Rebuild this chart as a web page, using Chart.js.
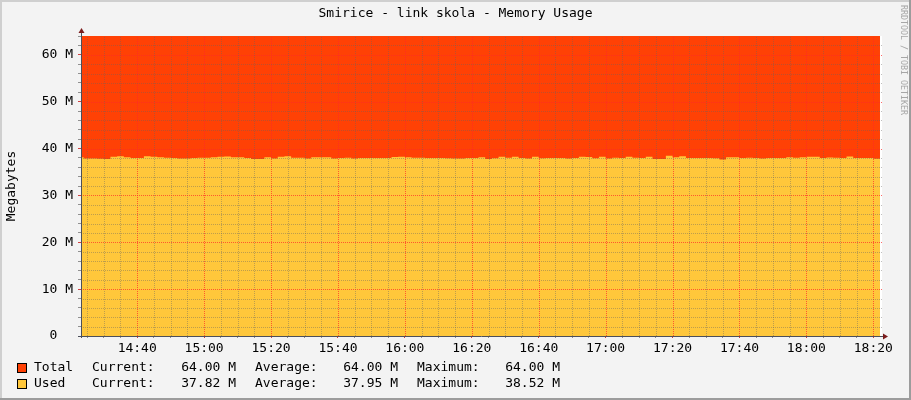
<!DOCTYPE html>
<html>
<head>
<meta charset="utf-8">
<title>Smirice - link skola - Memory Usage</title>
<script src="https://cdn.jsdelivr.net/npm/chart.js@4.4.1/dist/chart.umd.min.js"></script>
<style>
  html, body { margin: 0; padding: 0; background: #f3f3f3; }
  canvas { display: block; }
</style>
</head>
<body>
<canvas id="memChart" width="911" height="400"></canvas>
<script>
// samples every 2 minutes, first one at 14:22 (minutes of the day)
const startMinute = 862;
const stepMinutes = 2;

// Used memory in MB
const usedMB = [
  37.75, 38.15, 37.85, 37.85, 37.80, 37.75, 38.25, 38.35, 38.15, 37.95,
  37.95, 38.35, 38.25, 38.15, 38.05, 37.95, 37.85, 37.85, 37.95, 38.05,
  38.05, 38.15, 38.25, 38.30, 38.15, 38.15, 37.95, 37.75, 37.75, 38.15,
  37.85, 38.25, 38.35, 38.05, 38.05, 37.85, 38.15, 38.15, 38.15, 37.85,
  37.95, 38.05, 37.85, 37.95, 37.95, 37.95, 38.00, 37.95, 38.20, 38.25,
  38.15, 38.05, 38.05, 38.00, 37.95, 37.95, 37.90, 37.85, 37.85, 37.95,
  37.95, 38.15, 37.75, 37.90, 38.25, 38.05, 38.25, 37.95, 37.85, 38.25,
  37.90, 37.95, 37.95, 37.95, 37.85, 37.95, 38.25, 38.20, 37.90, 38.25,
  37.85, 38.05, 37.95, 38.25, 38.05, 38.00, 38.25, 37.75, 37.75, 38.45,
  38.15, 38.35, 37.95, 37.95, 37.95, 37.95, 37.90, 37.65, 38.15, 38.15,
  37.95, 38.05, 37.95, 37.85, 37.95, 37.95, 37.95, 38.15, 38.05, 38.15,
  38.25, 38.25, 37.95, 38.10, 38.05, 37.95, 38.30, 37.95, 38.00, 38.00,
  37.82
];

// Total memory in MB (constant in the picture)
const totalMB = [
  64, 64, 64, 64, 64, 64, 64, 64, 64, 64, 64, 64, 64, 64, 64, 64, 64, 64, 64, 64,
  64, 64, 64, 64, 64, 64, 64, 64, 64, 64, 64, 64, 64, 64, 64, 64, 64, 64, 64, 64,
  64, 64, 64, 64, 64, 64, 64, 64, 64, 64, 64, 64, 64, 64, 64, 64, 64, 64, 64, 64,
  64, 64, 64, 64, 64, 64, 64, 64, 64, 64, 64, 64, 64, 64, 64, 64, 64, 64, 64, 64,
  64, 64, 64, 64, 64, 64, 64, 64, 64, 64, 64, 64, 64, 64, 64, 64, 64, 64, 64, 64,
  64, 64, 64, 64, 64, 64, 64, 64, 64, 64, 64, 64, 64, 64, 64, 64, 64, 64, 64, 64,
  64
];

// legend rows
const seriesNames = ['Total', 'Used'];
const seriesColors = ['#ff4105', '#ffc73b'];
const legendCurrent = [64.00, 37.82];
const legendAverage = [64.00, 37.95];
const legendMaximum = [64.00, 38.52];

// axes
const xMin = 863.2;   // 14:23
const xMax = 1102.6;  // 18:22
const yTickLabels = ['0  ', '10 M', '20 M', '30 M', '40 M', '50 M', '60 M'];

const FONT = "'DejaVu Sans Mono', monospace";
const MINOR_GRID = 'rgba(100,100,100,0.42)';
const MAJOR_GRID = 'rgba(255,40,40,0.7)';

function toPoints(values) {
    return values.map((v, i) => ({ x: startMinute + i * stepMinutes, y: v }));
}

function hhmm(m) {
    const h = Math.floor(m / 60);
    const mm = m % 60;
    return h + ':' + (mm < 10 ? '0' : '') + mm;
}

// dotted rrdtool grid, drawn over the areas
const dottedGrid = {
    id: 'dottedGrid',
    afterDatasetsDraw(chart) {
        const { ctx, chartArea: a, scales: { x, y } } = chart;
        ctx.save();
        ctx.lineWidth = 1;
        ctx.setLineDash([1, 1]);
        x.ticks.forEach(t => {
            const px = Math.round(x.getPixelForValue(t.value)) + 0.5;
            if (px <= a.left + 1 || px >= a.right) return;
            ctx.strokeStyle = t.value % 20 === 0 ? MAJOR_GRID : MINOR_GRID;
            ctx.beginPath();
            ctx.moveTo(px, a.bottom);
            ctx.lineTo(px, a.top);
            ctx.stroke();
        });
        y.ticks.forEach(t => {
            if (t.value <= 0 || t.value >= 64) return;
            const py = Math.round(y.getPixelForValue(t.value)) + 0.5;
            ctx.strokeStyle = t.value % 10 === 0 ? MAJOR_GRID : MINOR_GRID;
            ctx.beginPath();
            ctx.moveTo(a.left, py);
            ctx.lineTo(a.right, py);
            ctx.stroke();
        });
        ctx.restore();
    }
};

// rrdtool-ish frame, title, axis arrows, watermark and legend
const rrdDecor = {
    id: 'rrdDecor',
    beforeDraw(chart) {
        const { ctx, chartArea: a } = chart;
        ctx.save();
        ctx.fillStyle = '#f3f3f3';
        ctx.fillRect(0, 0, chart.width, chart.height);
        ctx.fillStyle = '#ffffff';
        ctx.fillRect(a.left, a.top, a.right - a.left, a.bottom - a.top);
        ctx.restore();
    },
    afterDraw(chart) {
        const { ctx, chartArea: a } = chart;
        const W = chart.width, H = chart.height;
        ctx.save();

        // frame
        ctx.fillStyle = '#cfcfcf';
        ctx.fillRect(0, 0, W, 2);
        ctx.fillRect(0, 0, 2, H);
        ctx.fillStyle = '#9c9c9c';
        ctx.fillRect(0, H - 2, W, 2);
        ctx.fillRect(W - 2, 0, 2, H);

        // axis lines + arrows
        ctx.strokeStyle = '#4c4f5a';
        ctx.lineWidth = 1;
        ctx.beginPath();
        ctx.moveTo(a.left + 0.5, a.bottom + 2);
        ctx.lineTo(a.left + 0.5, a.top - 4);
        ctx.moveTo(a.left - 3, a.bottom + 0.5);
        ctx.lineTo(a.right + 3, a.bottom + 0.5);
        ctx.stroke();
        ctx.fillStyle = '#7a1c1c';
        ctx.beginPath();
        ctx.moveTo(a.left + 0.5, a.top - 8);
        ctx.lineTo(a.left - 2.5, a.top - 3);
        ctx.lineTo(a.left + 3.5, a.top - 3);
        ctx.closePath();
        ctx.fill();
        ctx.beginPath();
        ctx.moveTo(a.right + 6, a.bottom + 0.5);
        ctx.lineTo(a.right + 1, a.bottom - 2.5);
        ctx.lineTo(a.right + 1, a.bottom + 3.5);
        ctx.closePath();
        ctx.fill();

        // title
        ctx.fillStyle = '#000';
        ctx.font = '13px ' + FONT;
        ctx.textAlign = 'center';
        ctx.textBaseline = 'middle';
        ctx.fillText('Smirice - link skola - Memory Usage', W / 2, 14);

        // watermark
        ctx.save();
        ctx.translate(903, 5);
        ctx.rotate(Math.PI / 2);
        ctx.fillStyle = '#a6a6a6';
        ctx.font = '8.3px ' + FONT;
        ctx.textAlign = 'left';
        ctx.textBaseline = 'middle';
        ctx.fillText('RRDTOOL / TOBI OETIKER', 0, 0);
        ctx.restore();

        // legend
        ctx.font = '13px ' + FONT;
        ctx.textBaseline = 'middle';
        seriesNames.forEach((name, i) => {
            const y = 368 + i * 16;
            ctx.fillStyle = seriesColors[i];
            ctx.fillRect(17, y - 5, 10, 10);
            ctx.strokeStyle = '#000';
            ctx.strokeRect(17.5, y - 4.5, 9, 9);
            ctx.fillStyle = '#000';
            ctx.textAlign = 'left';
            ctx.fillText(name, 34, y);
            ctx.fillText('Current:', 92, y);
            ctx.fillText('Average:', 255, y);
            ctx.fillText('Maximum:', 417, y);
            ctx.textAlign = 'right';
            ctx.fillText(legendCurrent[i].toFixed(2) + ' M', 236, y);
            ctx.fillText(legendAverage[i].toFixed(2) + ' M', 398, y);
            ctx.fillText(legendMaximum[i].toFixed(2) + ' M', 560, y);
        });
        ctx.restore();
    }
};

const ctx = document.getElementById('memChart').getContext('2d');

new Chart(ctx, {
    type: 'line',
    data: {
        datasets: [{
            label: seriesNames[1],
            data: toPoints(usedMB),
            stepped: 'after',
            borderWidth: 0,
            pointRadius: 0,
            backgroundColor: seriesColors[1],
            fill: 'origin'
        }, {
            label: seriesNames[0],
            data: toPoints(totalMB),
            stepped: 'after',
            borderWidth: 0,
            pointRadius: 0,
            backgroundColor: seriesColors[0],
            fill: 'origin'
        }]
    },
    options: {
        responsive: false,
        animation: false,
        events: [],
        layout: { padding: { top: 36, right: 29, bottom: 0, left: 0 } },
        plugins: {
            legend: { display: false },
            title: { display: false },
            tooltip: { enabled: false }
        },
        scales: {
            x: {
                type: 'linear',
                min: xMin,
                max: xMax,
                afterFit: (s) => { s.height = 64; },
                border: { display: false },
                grid: {
                    drawOnChartArea: false,
                    tickColor: (c) => c.tick && c.tick.value % 20 === 0 ? '#d04040' : '#909090',
                    tickLength: 2
                },
                ticks: {
                    stepSize: 5,
                    includeBounds: false,
                    autoSkip: false,
                    maxRotation: 0,
                    padding: 3,
                    color: '#000',
                    font: { family: FONT, size: 13 },
                    callback: (v) => v % 20 === 0 ? hhmm(v) : ''
                }
            },
            y: {
                min: 0,
                max: 64,
                afterFit: (s) => { s.width = 81; },
                border: { display: false },
                grid: {
                    drawOnChartArea: false,
                    tickColor: (c) => c.tick && c.tick.value % 10 === 0 ? '#d04040' : '#909090',
                    tickLength: 3
                },
                title: {
                    display: true,
                    text: 'Megabytes',
                    color: '#000',
                    font: { family: FONT, size: 13 },
                    padding: { top: 4, bottom: 4 }
                },
                ticks: {
                    stepSize: 2,
                    autoSkip: false,
                    padding: 5,
                    color: '#000',
                    font: { family: FONT, size: 13 },
                    callback: (v) => v % 10 === 0 ? yTickLabels[v / 10] : ''
                }
            }
        }
    },
    plugins: [dottedGrid, rrdDecor]
});
</script>
</body>
</html>
